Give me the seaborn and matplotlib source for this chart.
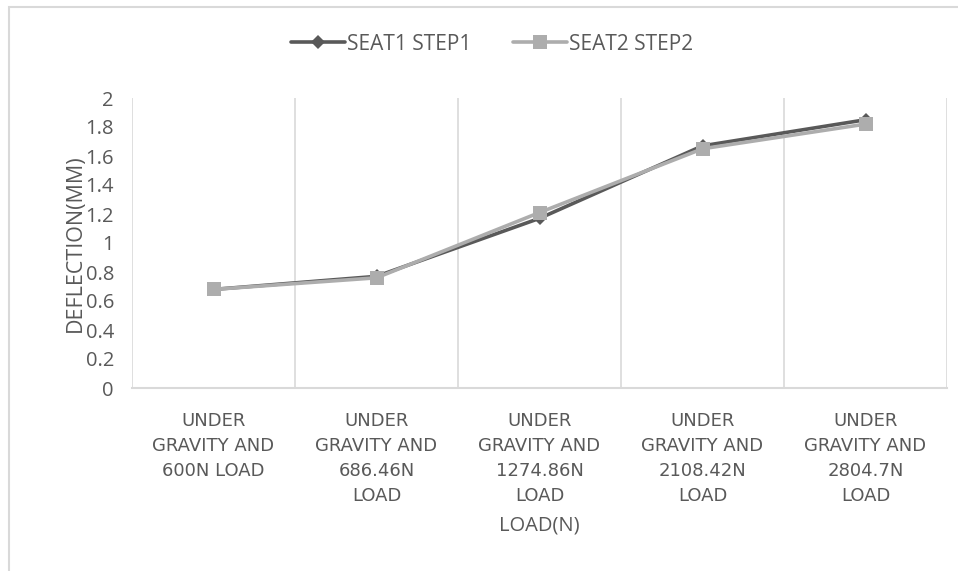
import matplotlib
matplotlib.use("Agg")
import matplotlib.pyplot as plt
import matplotlib.patches as mpatches
from matplotlib.ticker import FixedLocator
import numpy as np
import pandas as pd
import seaborn as sns

# Data
load_cases = [
    "UNDER\nGRAVITY AND\n600N LOAD",
    "UNDER\nGRAVITY AND\n686.46N\nLOAD",
    "UNDER\nGRAVITY AND\n1274.86N\nLOAD",
    "UNDER\nGRAVITY AND\n2108.42N\nLOAD",
    "UNDER\nGRAVITY AND\n2804.7N\nLOAD",
]
seat1_step1 = [0.68, 0.77, 1.17, 1.67, 1.85]
seat2_step2 = [0.68, 0.76, 1.21, 1.65, 1.82]
series_names = ["SEAT1 STEP1", "SEAT2 STEP2"]
y_ticks = [0, 0.2, 0.4, 0.6, 0.8, 1, 1.2, 1.4, 1.6, 1.8, 2]
y_tick_labels = ["0", "0.2", "0.4", "0.6", "0.8", "1", "1.2", "1.4", "1.6", "1.8", "2"]

df = pd.DataFrame({
    "case": list(range(len(load_cases))) * 2,
    "deflection": seat1_step1 + seat2_step2,
    "series": [series_names[0]] * len(load_cases) + [series_names[1]] * len(load_cases),
})

sns.set_theme(style="white")
plt.rcParams["font.family"] = ["Open Sans", "DejaVu Sans"]

TEXT = "#595959"
GRID = "#D9D9D9"
W, H = 958, 571
fig = plt.figure(figsize=(W / 100, H / 100), dpi=100)
ax = fig.add_axes([132 / W, 1 - 388 / H, (947 - 132) / W, (388 - 98) / H])

palette = {series_names[0]: "#595959", series_names[1]: "#ADADAD"}
markers = {series_names[0]: "D", series_names[1]: "s"}
sizes = {series_names[0]: 7.5, series_names[1]: 10.5}

for name in series_names:
    sub = df[df["series"] == name]
    sns.lineplot(data=sub, x="case", y="deflection", ax=ax, color=palette[name],
                 linewidth=2.6, marker=markers[name], markersize=sizes[name],
                 markeredgewidth=0, label=name, legend=False)

ax.set_xlim(-0.5, len(load_cases) - 0.5)
ax.set_ylim(0, 2)
ax.set_xticks(range(len(load_cases)))
ax.set_xticklabels(load_cases, fontsize=13, color=TEXT, linespacing=1.5,
                   family=["DejaVu Sans"])
ax.set_yticks(y_ticks)
ax.set_yticklabels(y_tick_labels, fontsize=14.5, color=TEXT)
ax.tick_params(axis="x", length=0, pad=17)
ax.tick_params(axis="y", length=0, pad=13)

# Vertical gridlines at category boundaries
ax.xaxis.set_minor_locator(FixedLocator(np.arange(-0.5, len(load_cases), 1.0)))
ax.grid(False)
ax.grid(True, which="minor", axis="x", color=GRID, linewidth=1.2)
ax.tick_params(axis="x", which="minor", length=0)

for s in ["top", "right", "left"]:
    ax.spines[s].set_visible(False)
ax.spines["bottom"].set_color(GRID)
ax.spines["bottom"].set_linewidth(1.5)

ax.set_xlabel("LOAD(N)", fontsize=14.5, color=TEXT)
ax.set_ylabel("DEFLECTION(MM)", fontsize=15.5, color=TEXT)
ax.xaxis.set_label_coords(0.5, -0.44)
ax.yaxis.set_label_coords(-0.056, 0.5)

handles = [
    plt.Line2D([], [], color=palette[n], linewidth=2.6, marker=markers[n],
               markersize=sizes[n] * 0.9, markeredgewidth=0)
    for n in series_names
]
fig.legend(handles, series_names, loc="center", bbox_to_anchor=(492 / W, 1 - 44 / H),
           ncol=2, frameon=False, fontsize=15, labelcolor=TEXT, handlelength=2.6,
           handletextpad=0.1, columnspacing=2.0)

# Chart area border
fig.patches.append(mpatches.Rectangle((9 / W, -0.1), 1.2, 1 - 7 / H + 0.1,
                                      transform=fig.transFigure, fill=False,
                                      edgecolor=GRID, linewidth=1.5))

fig.savefig("out.png", dpi=100)
